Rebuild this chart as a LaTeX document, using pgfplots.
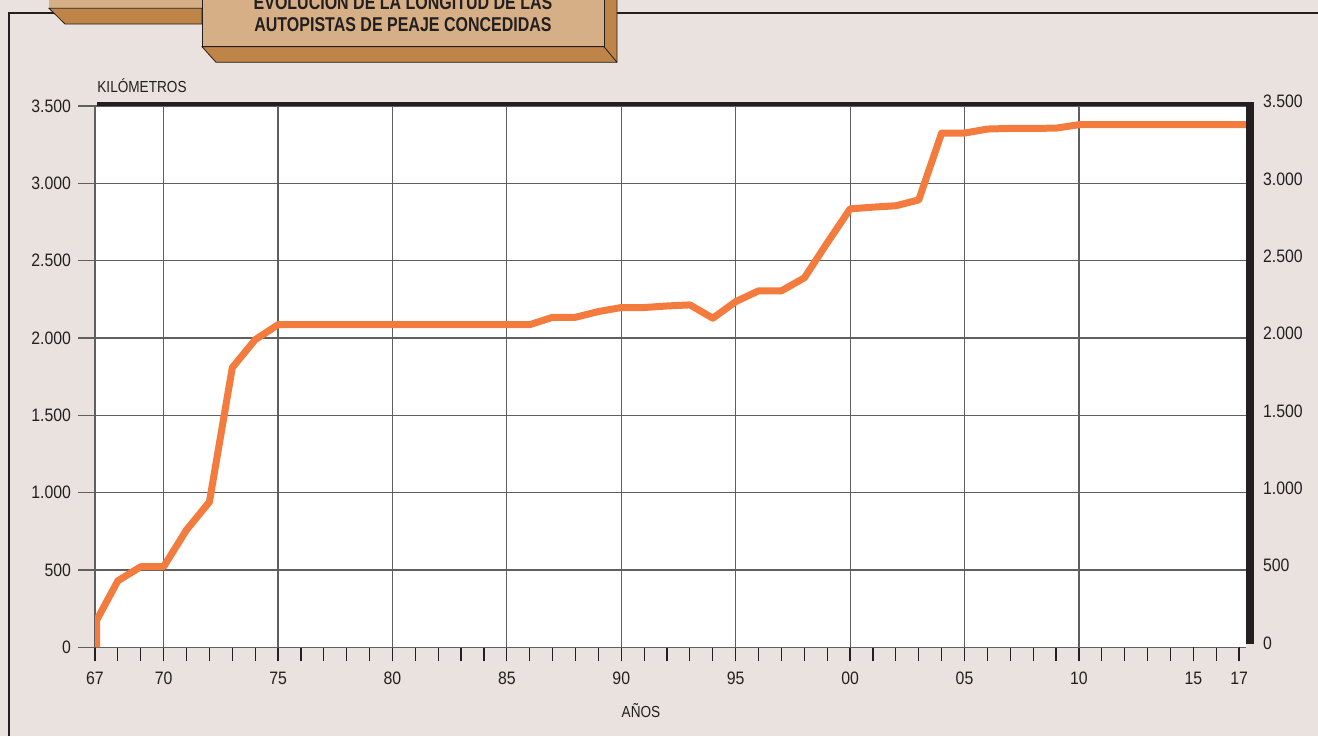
\documentclass[border=0pt]{standalone}
\usepackage{pgfplots}
\pgfplotsset{compat=1.18}
\usepackage{fontspec}
\setmainfont{Liberation Sans}[FakeStretch=0.85]
\newfontfamily\titlefont{Liberation Sans}[FakeStretch=0.8]
\newfontfamily\tickfont{Liberation Sans}[FakeStretch=0.88]
\definecolor{bg}{HTML}{EAE2DF}
\definecolor{tanc}{HTML}{D6AF86}
\definecolor{brn}{HTML}{BF8448}
\definecolor{ink}{HTML}{231F20}
\definecolor{orng}{HTML}{F47B3E}
\definecolor{grd}{HTML}{5F5F5F}

\pgfplotstableread{
year km
1967.07 0
1967.07 175
1968 430
1969 521
1970 521
1971 759
1972 940
1973 1808
1974 1989
1975 2086
1976 2086
1977 2086
1978 2086
1979 2086
1980 2086
1981 2086
1982 2086
1983 2086
1984 2086
1985 2086
1986 2086
1987 2134
1988 2134
1989 2171
1990 2197
1991 2197
1992 2207
1993 2214
1994 2128
1995 2235
1996 2305
1997 2305
1998 2389
1999 2615
2000 2835
2001 2846
2002 2855
2003 2893
2004 3325
2005 3325
2006 3351
2007 3355
2008 3355
2009 3357
2010 3379
2011 3379
2012 3379
2013 3379
2014 3379
2015 3379
2016 3379
2017 3379
2017.5 3379
}\kmdata

\begin{document}
\begin{tikzpicture}[x=1pt,y=1pt]
\useasboundingbox (0,0) rectangle (659,368);
\fill[bg] (0,0) rectangle (659,368);
% frame
\draw[ink, line width=1pt] (4.5,0) -- (4.5,361.65) -- (659,361.65);
\begin{scope}
\clip (0,0) rectangle (659,368);
% left (cut) box
\fill[tanc] (24.5,363.85) rectangle (101,368);
\filldraw[fill=brn, draw=ink, line width=0.4pt] (24.5,363.85) -- (32.5,356) -- (101,356) -- (101,363.85) -- cycle;
% title box
\filldraw[fill=brn, draw=ink, line width=0.4pt] (101,344.65) -- (108,336.85) -- (308.5,336.85) -- (308.5,372) -- (302,372) -- (302,344.65) -- cycle;
\draw[ink, line width=0.4pt] (302,344.65) -- (308.5,336.85);
\filldraw[fill=tanc, draw=ink, line width=0.4pt] (101,344.65) rectangle (302,372);
\node[font=\titlefont\bfseries\fontsize{10}{10.8}\selectfont, text=ink, anchor=base, inner sep=0pt] at (201.5,363) {EVOLUCIÓN DE LA LONGITUD DE LAS};
\node[font=\titlefont\bfseries\fontsize{10}{10.8}\selectfont, text=ink, anchor=base, inner sep=0pt] at (201.5,352.15) {AUTOPISTAS DE PEAJE CONCEDIDAS};
\end{scope}

\begin{axis}[
  at={(47.5pt,44.35pt)}, anchor=south west,
  scale only axis, width=575.5pt, height=270.65pt,
  xmin=1967, xmax=2017.3, ymin=0, ymax=3500,
  axis background/.style={fill=white},
  axis x line*=bottom, axis y line*=left,
  axis line style={grd, line width=0.6pt},
  xtick={1970,1975,...,2010},
  xticklabels={70,75,80,85,90,95,00,05,10},
  extra x ticks={1967,2015,2017},
  extra x tick labels={67,15,17},
  extra x tick style={grid=none},
  minor xtick={1967,...,2017},
  ytick={0,500,...,3500},
  grid=major,
  major grid style={grd, line width=0.6pt},
  tick align=outside,
  major tick length=7pt,
  minor tick length=7pt,
  xtick style={ink, line width=0.6pt},
  ytick style={grd, line width=0.6pt},
  tick label style={font=\tickfont\fontsize{9}{10.8}\selectfont, text=ink},
  xticklabel style={yshift=-2pt},
  yticklabel style={xshift=-1.5pt},
  /pgf/number format/assume math mode=true,
  /pgf/number format/1000 sep={.},
]
\addplot[orng, line width=3.5pt, line join=round, line cap=butt] table[x=year, y=km] {\kmdata};
\end{axis}

% longer left tick marks
\begin{axis}[
  at={(47.5pt,44.35pt)}, anchor=south west,
  scale only axis, width=575.5pt, height=270.65pt,
  xmin=1967, xmax=2017.3, ymin=0, ymax=3500,
  hide x axis,
  axis y line*=left,
  axis line style={draw=none},
  ytick={0,500,...,3500},
  yticklabels={},
  tick align=outside,
  major tick length=8.5pt,
  ytick style={grd, line width=0.6pt},
]
\end{axis}

\begin{axis}[
  at={(47.5pt,44.35pt)}, anchor=south west,
  scale only axis, width=575.5pt, height=270.65pt,
  xmin=1967, xmax=2017.3, ymin=0, ymax=3500,
  hide x axis,
  axis y line*=right,
  axis line style={draw=none},
  ytick={0,500,...,3500},
  major tick length=0pt,
  yticklabel style={yshift=2.2pt, xshift=5pt},
  tick label style={font=\tickfont\fontsize{9}{10.8}\selectfont, text=ink},
  /pgf/number format/assume math mode=true,
  /pgf/number format/1000 sep={.},
]
\end{axis}

\fill[ink] (48.5,314.9) rectangle (627,317);
\fill[ink] (623,46) rectangle (627,317);
\node[anchor=base west, font=\fontsize{8}{9.6}\selectfont, text=ink, inner sep=0pt] at (48.5,321.65) {KILÓMETROS};
\node[font=\fontsize{8}{9.6}\selectfont, text=ink] at (320.5,12.5) {AÑOS};
\end{tikzpicture}
\end{document}
